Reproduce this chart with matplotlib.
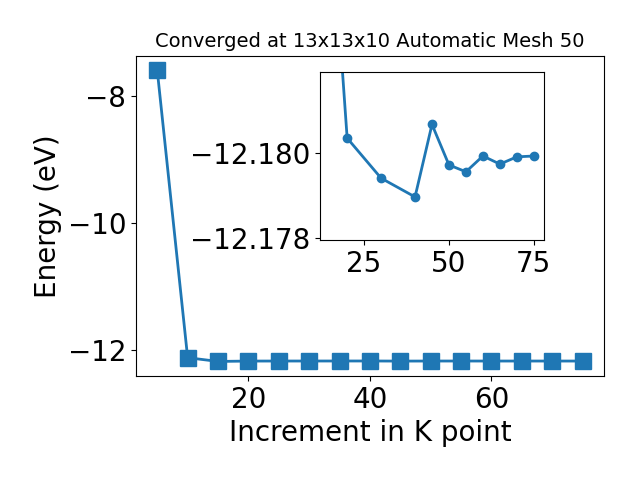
import matplotlib
matplotlib.use("Agg")
import matplotlib.pyplot as plt

# K-point convergence data
kpoints = [5, 10, 15, 20, 25, 30, 35, 40, 45, 50, 55, 60, 65, 70, 75]
energy = [-7.6, -12.127, -12.186, -12.18035, -12.1797, -12.17941, -12.1792,
          -12.17897, -12.18067, -12.17972, -12.17956, -12.17993, -12.17974,
          -12.17991, -12.17993]

# Zoomed subset for the inset
inset_k = [15, 20, 30, 40, 45, 50, 55, 60, 65, 70, 75]
inset_e = [-12.186, -12.18035, -12.17941, -12.17897, -12.18067, -12.17972,
           -12.17956, -12.17993, -12.17974, -12.17991, -12.17993]

fig = plt.figure(figsize=(6.4, 4.8), dpi=100)
ax = fig.add_axes([0.2125, 0.2167, 0.731, 0.667])
ax.plot(kpoints, energy, marker="s", markersize=12, linewidth=2, color="#1f77b4")
ax.set_xlabel("Increment in K point", fontsize=20)
ax.set_ylabel("Energy (eV)", fontsize=20)
ax.set_title("Converged at 13x13x10 Automatic Mesh 50", fontsize=14)
ax.set_yticks([-12, -10, -8])
ax.set_xticks([20, 40, 60])
ax.tick_params(labelsize=20)

ins = fig.add_axes([0.5, 0.5, 0.35, 0.35])
ins.plot(inset_k, inset_e, marker="o", markersize=6, linewidth=2, color="#1f77b4")
# y axis runs downward in the original
ins.set_ylim(-12.17796, -12.1819)
ins.set_xlim(12, 78)
ins.set_yticks([-12.180, -12.178])
ins.set_yticklabels(["\u221212.180", "\u221212.178"])
ins.set_xticks([25, 50, 75])
ins.tick_params(labelsize=20)

plt.savefig("out.png", dpi=100)
plt.close()
